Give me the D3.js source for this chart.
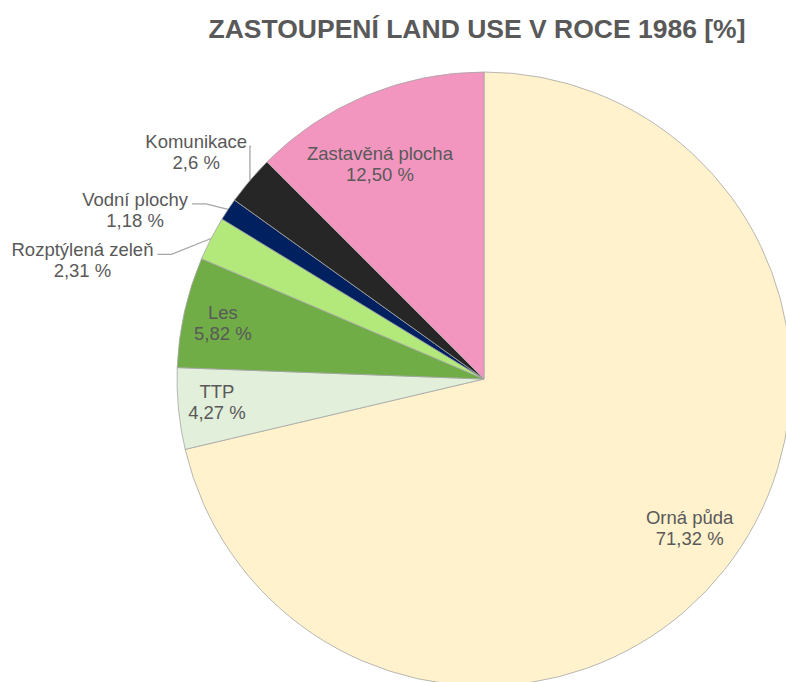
<!DOCTYPE html>
<html>
<head>
<meta charset="utf-8">
<script src="https://cdn.jsdelivr.net/npm/d3@7"></script>
<style>
  body { margin: 0; background: #fff; }
  svg { display: block; font-family: "Liberation Sans", Arial, sans-serif; }
</style>
</head>
<body>
<svg id="chart"></svg>
<script>
// Data
const categories = ['Orná půda', 'TTP', 'Les', 'Rozptýlená zeleň', 'Vodní plochy', 'Komunikace', 'Zastavěná plocha'];
const values = [71.32, 4.27, 5.82, 2.31, 1.18, 2.6, 12.50];
const valueLabels = ['71,32 %', '4,27 %', '5,82 %', '2,31 %', '1,18 %', '2,6 %', '12,50 %'];
const colors = ['#FFF2CC', '#E2EFDA', '#70AD47', '#B3E87A', '#002060', '#262626', '#F296C0'];

// label placement: [angle in degrees clockwise from top, distance as fraction of radius, outside?]
const labelLayout = [
  [127.1, 0.84, false],
  [263.8, 0.875, false],
  [280.8, 0.866, false],
  [285.6, 1.358, true],
  [295.0, 1.254, true],
  [307.4, 1.18, true],
  [333.5, 0.76, false]
];

const width = 786, height = 682;
const cx = 484, cy = 379, radius = 307;
const textColor = '#595959';

const svg = d3.select('#chart')
    .attr('width', width)
    .attr('height', height);

// Title
svg.append('text')
    .attr('x', 477)
    .attr('y', 38)
    .attr('text-anchor', 'middle')
    .attr('font-size', '26.5px')
    .attr('font-weight', 'bold')
    .attr('fill', textColor)
    .text('ZASTOUPENÍ LAND USE V ROCE 1986 [%]');

const data = categories.map((c, i) => ({ name: c, value: values[i], label: valueLabels[i], color: colors[i], layout: labelLayout[i] }));

const pie = d3.pie()
    .sort(null)
    .value(d => d.value);

const arc = d3.arc()
    .innerRadius(0)
    .outerRadius(radius);

const g = svg.append('g')
    .attr('transform', `translate(${cx},${cy})`);

const arcs = pie(data);

g.selectAll('path.slice')
    .data(arcs)
  .join('path')
    .attr('class', 'slice')
    .attr('d', arc)
    .attr('fill', d => d.data.color)
    .attr('stroke', '#a6a6a6')
    .attr('stroke-width', 0.8);

// Labels
const polar = (deg, r) => {
  const a = deg * Math.PI / 180;
  return [r * Math.sin(a), -r * Math.cos(a)];
};

const lineGap = 21;

arcs.forEach(d => {
  const [ang, frac, outside] = d.data.layout;
  const [lx, ly] = polar(ang, frac * radius);
  const t = g.append('text')
      .attr('text-anchor', 'middle')
      .attr('font-size', '18.5px')
      .attr('fill', textColor);
  t.append('tspan')
      .attr('x', lx)
      .attr('y', ly - lineGap / 2)
      .text(d.data.name);
  t.append('tspan')
      .attr('x', lx)
      .attr('y', ly + lineGap / 2)
      .text(d.data.label);

  if (outside) {
    // leader line from the label to the slice edge at its mid angle
    const mid = (d.startAngle + d.endAngle) / 2;
    const ex = radius * Math.sin(mid), ey = -radius * Math.cos(mid);
    const firstW = t.select('tspan').node().getComputedTextLength();
    const sx = lx + firstW / 2 + 4;
    const sy = ly - lineGap / 2 - 2;
    const elbowX = Math.min(sx + 14, ex);
    g.append('polyline')
        .attr('points', [[sx, sy], [elbowX, sy], [ex, ey]].map(p => p.join(',')).join(' '))
        .attr('fill', 'none')
        .attr('stroke', '#a6a6a6')
        .attr('stroke-width', 1.3);
  }
});
</script>
</body>
</html>
